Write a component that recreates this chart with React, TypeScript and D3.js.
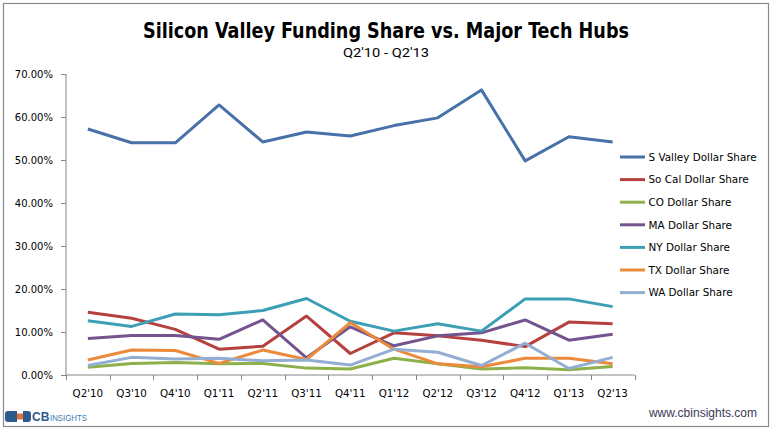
import React from "react";
import * as d3 from "d3";

const quarters = ["Q2'10","Q3'10","Q4'10","Q1'11","Q2'11","Q3'11","Q4'11","Q1'12","Q2'12","Q3'12","Q4'12","Q1'13","Q2'13"];
const sValley = [57.2,54.0,54.0,62.8,54.2,56.5,55.6,58.0,59.8,66.3,49.8,55.4,54.2];
const soCal = [14.6,13.2,10.6,6.0,6.7,13.7,5.0,9.8,9.1,8.1,6.6,12.3,11.9];
const co = [1.8,2.7,2.9,2.6,2.7,1.6,1.4,3.9,2.6,1.4,1.7,1.2,2.0];
const ma = [8.5,9.2,9.2,8.3,12.8,4.0,11.2,6.8,9.1,9.8,12.8,8.1,9.5];
const ny = [12.6,11.3,14.2,14.0,15.0,17.8,12.5,10.2,11.9,10.2,17.7,17.7,15.9];
const tx = [3.5,5.8,5.7,2.7,5.8,3.6,12.2,6.0,2.6,1.9,3.9,3.9,2.6];
const wa = [2.2,4.1,3.7,3.9,3.3,3.5,2.3,6.0,5.3,2.2,7.4,1.5,4.1];
const seriesNames = ["S Valley Dollar Share","So Cal Dollar Share","CO Dollar Share","MA Dollar Share","NY Dollar Share","TX Dollar Share","WA Dollar Share"];
const seriesColors = ["#4771A8","#B5413E","#8EB04B","#73548F","#3D9FB5","#EC8A3C","#93AED2"];
const yTicks = [0,10,20,30,40,50,60,70];

export default function App() {
  const allSeries = [sValley, soCal, co, ma, ny, tx, wa];
  const x = d3.scaleBand<string>().domain(quarters).range([66, 634.5]).padding(0);
  const y = d3.scaleLinear().domain([0, 70]).range([375, 74]);
  const cx = (q: string) => (x(q) as number) + x.bandwidth() / 2;
  const line = d3.line<number>().x((_, i) => cx(quarters[i])).y(d => y(d));
  const axisColor = "#868686";
  const font = "'DejaVu Sans', Verdana, sans-serif";
  const boundaries = quarters.map(q => x(q) as number).concat([634.5]);
  return (
    <svg width={773} height={431} style={{ position: "absolute", left: 0, top: 0, background: "#fff" }}>
      <rect x={3.5} y={3.5} width={765} height={423} fill="#fff" stroke="#8a8a8a" strokeWidth={1.2} />
      <text x={386} y={38} textAnchor="middle" fontFamily="'Liberation Sans Narrow', 'DejaVu Sans Condensed', Roboto, sans-serif" fontWeight="bold" fontSize={22} textLength={486} lengthAdjust="spacingAndGlyphs" fill="#000">Silicon Valley Funding Share vs. Major Tech Hubs</text>
      <text x={386} y={57} textAnchor="middle" fontFamily="'Liberation Sans Narrow', Roboto, sans-serif" fontSize={13} textLength={86} lengthAdjust="spacingAndGlyphs" fill="#000">Q2'10 - Q2'13</text>
      {/* axes */}
      <line x1={66} y1={74} x2={66} y2={375} stroke={axisColor} />
      <line x1={66} y1={375} x2={634.5} y2={375} stroke={axisColor} />
      {yTicks.map(t => (
        <g key={t}>
          <line x1={61} x2={66} y1={Math.round(y(t)) + 0.5} y2={Math.round(y(t)) + 0.5} stroke={axisColor} />
          <text x={53} y={y(t) + 3.7} textAnchor="end" fontFamily={font} fontSize={10} fill="#000">{t.toFixed(2)}%</text>
        </g>
      ))}
      {boundaries.map((b, i) => (
        <line key={i} x1={Math.round(b) + 0.5} x2={Math.round(b) + 0.5} y1={375} y2={380} stroke={axisColor} />
      ))}
      {quarters.map(q => (
        <text key={q} x={cx(q)} y={396.5} textAnchor="middle" fontFamily={font} fontSize={10.3} fill="#000">{q}</text>
      ))}
      {/* lines (draw so that S Valley first, WA last on top) */}
      {allSeries.map((s, i) => (
        <path key={i} d={line(s) as string} fill="none" stroke={seriesColors[i]} strokeWidth={3} strokeLinejoin="round" strokeLinecap="butt" />
      ))}
      {/* legend */}
      {seriesNames.map((n, i) => {
        const ly = 157 + i * 22.6;
        return (
          <g key={n}>
            <line x1={620} x2={645} y1={ly} y2={ly} stroke={seriesColors[i]} strokeWidth={3} />
            <text x={648.5} y={ly + 3.8} fontFamily={font} fontSize={10.4} fill="#000">{n}</text>
          </g>
        );
      })}
      {/* footer */}
      <g>
        <path d="M8,411 h9 v11 h-9 q-3,0 -3,-3 v-5 q0,-3 3,-3 z" fill="#2E5A8C" />
        <rect x={17} y={413.5} width={6} height={6} fill="#E0733A" />
        <path d="M23,411 h5 q3,0 3,3 v5 q0,3 -3,3 h-5 z" fill="#2E5A8C" />
        <text x={32} y={421} fontFamily="'Liberation Sans', Arial, sans-serif" fontWeight="bold" fontSize={12} fill="#2E5A8C">CB</text>
        <text x={50} y={421} fontFamily="'Liberation Sans', Arial, sans-serif" fontSize={8.5} textLength={37} lengthAdjust="spacingAndGlyphs" fill="#3B78B5">INSIGHTS</text>
      </g>
      <text x={757} y={417} textAnchor="end" fontFamily="'Liberation Sans', Arial, sans-serif" fontSize={12} fill="#3A3A58">www.cbinsights.com</text>
    </svg>
  );
}
